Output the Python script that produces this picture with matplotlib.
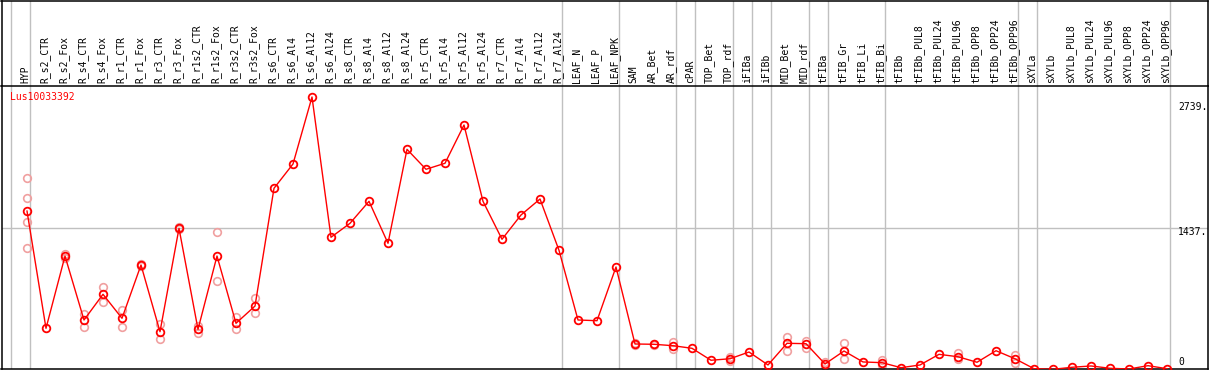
import matplotlib
matplotlib.use("Agg")
import matplotlib.pyplot as plt
import matplotlib.transforms as mtransforms
import numpy as np

gene = "Lus10033392"

samples = [
    "HYP", "R_s2_CTR", "R_s2_Fox", "R_s4_CTR", "R_s4_Fox", "R_r1_CTR", "R_r1_Fox",
    "R_r3_CTR", "R_r3_Fox", "R_r1s2_CTR", "R_r1s2_Fox", "R_r3s2_CTR", "R_r3s2_Fox",
    "R_s6_CTR", "R_s6_Al4", "R_s6_Al12", "R_s6_Al24", "R_s8_CTR", "R_s8_Al4",
    "R_s8_Al12", "R_s8_Al24", "R_r5_CTR", "R_r5_Al4", "R_r5_Al12", "R_r5_Al24",
    "R_r7_CTR", "R_r7_Al4", "R_r7_Al12", "R_r7_Al24", "LEAF_N", "LEAF_P", "LEAF_NPK",
    "SAM", "AR_Bet", "AR_rdf", "cPAR", "TOP_Bet", "TOP_rdf", "iFIBa", "iFIBb",
    "MID_Bet", "MID_rdf", "tFIBa", "tFIB_Gr", "tFIB_Li", "tFIB_Bi", "tFIBb",
    "tFIBb_PUL8", "tFIBb_PUL24", "tFIBb_PUL96", "tFIBb_OPP8", "tFIBb_OPP24", "tFIBb_OPP96",
    "sXYLa", "sXYLb", "sXYLb_PUL8", "sXYLb_PUL24", "sXYLb_PUL96", "sXYLb_OPP8",
    "sXYLb_OPP24", "sXYLb_OPP96",
]

# mean expression per sample
means = [
    1603, 435, 1155, 518, 774, 535, 1066, 401, 1431, 425, 1155, 485, 657,
    1830, 2072, 2739, 1342, 1481, 1700, 1282, 2218, 2019, 2079, 2460, 1700,
    1322, 1564, 1723, 1212, 518, 511, 1046,
    279, 276, 262, 236, 117, 132, 199, 70, 286, 282, 80, 209, 100, 93, 43,
    70, 176, 152, 97, 212, 132,
    33, 27, 47, 60, 37, 30, 63, 33,
]

# individual replicates (only where they show)
replicates = {
    "HYP": [1929, 1730, 1491, 1232],
    "R_s2_Fox": [1175, 1140],
    "R_s4_CTR": [578, 445],
    "R_s4_Fox": [850, 700],
    "R_r1_CTR": [618, 451],
    "R_r1_Fox": [1080, 1052],
    "R_r3_CTR": [478, 326],
    "R_r3_Fox": [1440, 1422],
    "R_r1s2_CTR": [458, 391],
    "R_r1s2_Fox": [1391, 906],
    "R_r3s2_CTR": [551, 425],
    "R_r3s2_Fox": [734, 585],
    "SAM": [285, 270],
    "AR_Bet": [280, 272],
    "AR_rdf": [302, 225],
    "TOP_rdf": [150, 112],
    "MID_Bet": [352, 212],
    "MID_rdf": [312, 239],
    "tFIBa": [100, 60],
    "tFIB_Gr": [292, 126],
    "tFIB_Bi": [117, 70],
    "tFIBb_PUL96": [186, 126],
    "tFIBb_OPP96": [169, 87],
}

# samples per tissue group, left to right
group_sizes = [1, 28, 3, 3, 1, 2, 1, 1, 2, 1, 3, 7, 1, 7]

y_marks = [2739, 1437, 0]

red = "#ff0000"
pink = "#f0a0a0"
grey = "#c0c0c0"
mono = "DejaVu Sans Mono"

W, H = 1209, 370
fig = plt.figure(figsize=(W / 100, H / 100), dpi=100)

# pixel layout
left_px, right_px = 1.5, 1208
top_px, mid_px, bot_px = 0.5, 85.7, 369
x0_px, step_px = 27, 19

ax_head = fig.add_axes([left_px / W, (H - mid_px) / H,
                        (right_px - left_px) / W, (mid_px - top_px) / H])
ax = fig.add_axes([left_px / W, (H - bot_px) / H,
                   (right_px - left_px) / W, (bot_px - mid_px) / H], sharex=ax_head)

x = np.arange(len(samples))
xmin = (left_px - x0_px) / step_px
xmax = (right_px - x0_px) / step_px
ax.set_xlim(xmin, xmax)

# value -> pixel: 0 sits a bit below the frame
zero_px, px_per_unit = 372, 0.1004
ax.set_ylim((zero_px - bot_px) / px_per_unit, (zero_px - mid_px) / px_per_unit)
ax_head.set_ylim(0, 1)

for a in (ax, ax_head):
    a.set_xticks([])
    a.set_yticks([])
    for s in a.spines.values():
        s.set_color("black")
        s.set_linewidth(1.1)
ax_head.spines["bottom"].set_visible(False)

# group separators
ends = [-1] + list(np.cumsum(group_sizes) - 1)
for e in ends:
    for a in (ax, ax_head):
        a.axvline(e + 0.17, color=grey, lw=1, zorder=0)

ax.axhline(y_marks[1], color=grey, lw=1, zorder=0)

# replicates
for name, vals in replicates.items():
    i = samples.index(name)
    ax.plot([i] * len(vals), vals, "o", ms=5.5, mfc="none", mec=pink, mew=1.2, zorder=2)

# means
ax.plot(x, means, "-", color=red, lw=1, zorder=3)
ax.plot(x, means, "o", ms=5.5, mfc="none", mec=red, mew=1.3, zorder=4)

# column labels
trans = mtransforms.blended_transform_factory(ax_head.transData, ax_head.transAxes)
for i, name in enumerate(samples):
    ax_head.text(i - 0.08, 0.028, name, transform=trans, rotation=90,
                 ha="center", va="bottom", fontsize=7, family=mono)

# right-hand value marks
lab_x = (1178 - x0_px) / step_px
offsets = [-10, -4, 10]
for v, off in zip(y_marks, offsets):
    ax.annotate(f"{v}." if v else "0", xy=(lab_x, v), xytext=(0, off),
                textcoords="offset pixels", ha="left", va="center",
                fontsize=7, family=mono, annotation_clip=False, zorder=5)

ax.text((10 - left_px) / (right_px - left_px), (bot_px - 97) / (bot_px - mid_px), gene,
        transform=ax.transAxes, color=red, ha="left", va="center",
        fontsize=7, family=mono)

fig.savefig("out.png", dpi=100)
